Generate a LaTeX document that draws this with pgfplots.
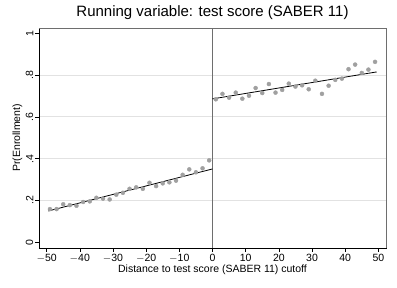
\documentclass[border=0pt]{standalone}
\usepackage{pgfplots}
\pgfplotsset{compat=1.18}
\usepackage{fontspec}
\setmainfont{Liberation Sans}
\definecolor{dotgray}{HTML}{A0A0A0}
\definecolor{gridgray}{HTML}{E2E2E2}
\definecolor{vgray}{HTML}{6E6E6E}
\begin{document}
\begin{tikzpicture}[x=1pt,y=1pt]
\begin{axis}[
  at={(0,0)}, anchor=south west,
  scale only axis, width=347pt, height=220pt,
  xmin=-52.3, xmax=52.3, ymin=-0.027, ymax=1.025,
  xtick={-50,-40,...,50},
  xticklabels={$-$50,$-$40,$-$30,$-$20,$-$10,0,10,20,30,40,50},
  ytick={0.2,0.4,0.6,0.8}, yticklabels={.2,.4,.6,.8},
  extra y ticks={0,1}, extra y tick labels={0,1},
  extra y tick style={grid=none},
  ymajorgrids, grid style={gridgray, line width=0.9pt},
  tick align=outside, tick pos=left,
  major tick length=4pt,
  tick style={black, line width=0.6pt},
  axis line style={black, line width=0.8pt},
  yticklabel style={rotate=90, anchor=south, font=\fontsize{10.5}{11}\selectfont, inner sep=1.5pt},
  xticklabel style={font=\fontsize{10.5}{11}\selectfont, inner sep=1.5pt},
  /pgf/number format/assume math mode=true,
  title={Running variable: test score (SABER 11)},
  title style={font=\fontsize{15}{16}\selectfont, at={(0.5,1)}, anchor=base, yshift=5.5pt},
  xlabel={Distance to test score (SABER 11) cutoff},
  xlabel style={font=\fontsize{10.5}{11}\selectfont, at={(0.5,0)}, anchor=base, yshift=-25pt},
  clip=false,
]
\addplot[vgray, line width=1.1pt] coordinates {(0,-0.027) (0,1.025)};
\addplot[only marks, mark=*, mark size=2pt, color=dotgray] coordinates {
(-49,0.159) (-47,0.159) (-45,0.182) (-43,0.178) (-41,0.175)
(-39,0.193) (-37,0.196) (-35,0.213) (-33,0.209) (-31,0.205)
(-29,0.228) (-27,0.237) (-25,0.256) (-23,0.263) (-21,0.256)
(-19,0.285) (-17,0.269) (-15,0.282) (-13,0.287) (-11,0.295)
(-9,0.323) (-7,0.349) (-5,0.335) (-3,0.354) (-1,0.392)
};
\addplot[only marks, mark=*, mark size=2pt, color=dotgray] coordinates {
(1,0.684) (3,0.710) (5,0.692) (7,0.716) (9,0.687)
(11,0.701) (13,0.738) (15,0.714) (17,0.757) (19,0.716)
(21,0.729) (23,0.759) (25,0.745) (27,0.751) (29,0.732)
(31,0.773) (33,0.710) (35,0.749) (37,0.777) (39,0.783)
(41,0.828) (43,0.850) (45,0.810) (47,0.826) (49,0.863)
};
\addplot[black, line width=0.8pt] coordinates {(-49.5,0.150) (0,0.351)};
\addplot[black, line width=0.8pt] coordinates {(0,0.686) (49.5,0.815)};
\draw[vgray, line width=0.8pt] (rel axis cs:0,1) -- (rel axis cs:1,1) -- (rel axis cs:1,0);
\node[rotate=90, anchor=base, font=\fontsize{10.5}{11}\selectfont] at (axis cs:-58.0,0.5) {Pr(Enrollment)};
\end{axis}
\pgfresetboundingbox
\path (-39pt,-40pt) rectangle (358pt,248pt);
\end{tikzpicture}
\end{document}
